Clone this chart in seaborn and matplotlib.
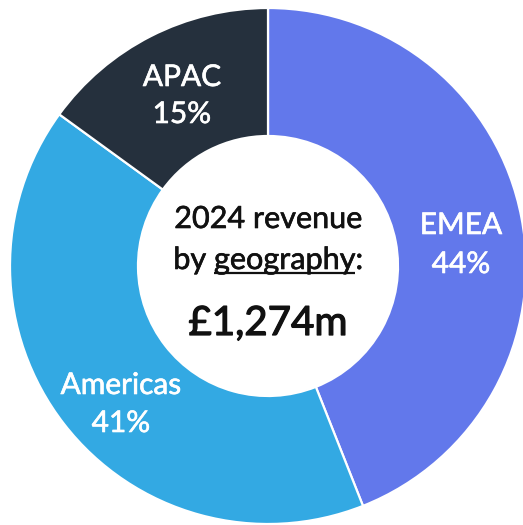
import matplotlib
matplotlib.use("Agg")
import matplotlib.pyplot as plt
import matplotlib.patheffects as pe
import seaborn as sns

# Revenue split by geography (share of total, %)
regions = ["EMEA", "Americas", "APAC"]
shares = [44, 41, 15]
share_labels = ["44%", "41%", "15%"]
total_label = "£1,274m"
title_line1 = "2024 revenue"
title_prefix = "by"
title_word = "geography"
title_suffix = ":"

sns.set_theme(style="white")
plt.rcParams["font.family"] = ["Lato", "DejaVu Sans"]

colors = sns.color_palette(["#6278EB", "#33A9E3", "#25303D"])

W, H = 523, 525
fig = plt.figure(figsize=(W / 100, H / 100), dpi=100)
ax = fig.add_axes([0, 0, 1, 1])

cx, cy = 268, H - 266
r_out, r_in = 258, 130

wedges, _ = ax.pie(
    shares,
    colors=colors,
    startangle=90,
    counterclock=False,
    radius=r_out,
    center=(cx, cy),
    wedgeprops=dict(width=r_out - r_in, edgecolor="white", linewidth=1.6),
)
ax.set_xlim(0, W)
ax.set_ylim(0, H)
ax.set_aspect("equal")
ax.axis("off")


def heavier(color, w):
    # a thin outline in the text colour gives a medium-weight look
    return [pe.withStroke(linewidth=w, foreground=color)]


# Slice labels (image-space positions of label baselines)
label_pos = {
    "EMEA": (461, 234, 273),
    "Americas": (121, 394, 432),
    "APAC": (182, 86, 123),
}
LFS = 21.5
for name, pct in zip(regions, share_labels):
    x, yb1, yb2 = label_pos[name]
    for txt, yb in ((name, yb1), (pct, yb2)):
        ax.text(x, H - yb, txt, ha="center", va="baseline", color="white",
                fontsize=LFS, path_effects=heavier("white", 0.45))

# Centre caption
FS = 22
INK = "#111111"
ax.text(cx, H - 228, title_line1, ha="center", va="baseline", color=INK,
        fontsize=FS, path_effects=heavier(INK, 0.45))
full = ax.text(cx, H - 269, f"{title_prefix} {title_word}{title_suffix}",
               ha="center", va="baseline", color=INK, fontsize=FS,
               path_effects=heavier(INK, 0.45))
ax.text(cx, H - 335, total_label, ha="center", va="baseline", color=INK,
        fontsize=29, path_effects=heavier(INK, 0.9))

# Underline the key word
fig.canvas.draw()
renderer = fig.canvas.get_renderer()


def width_px(s):
    t = ax.text(0, 0, s, fontsize=FS)
    w = t.get_window_extent(renderer).width
    t.remove()
    return w


w_full = full.get_window_extent(renderer).width
w_pre = width_px(title_prefix)
w_word = width_px(title_word)
w_suf = width_px(title_suffix)
gap = w_full - w_pre - w_word - w_suf
x_left = cx - w_full / 2 + w_pre + gap
ax.plot([x_left, x_left + w_word], [H - 272.5, H - 272.5], color=INK, lw=1.6,
        solid_capstyle="butt")

fig.savefig("out.png", dpi=100)
